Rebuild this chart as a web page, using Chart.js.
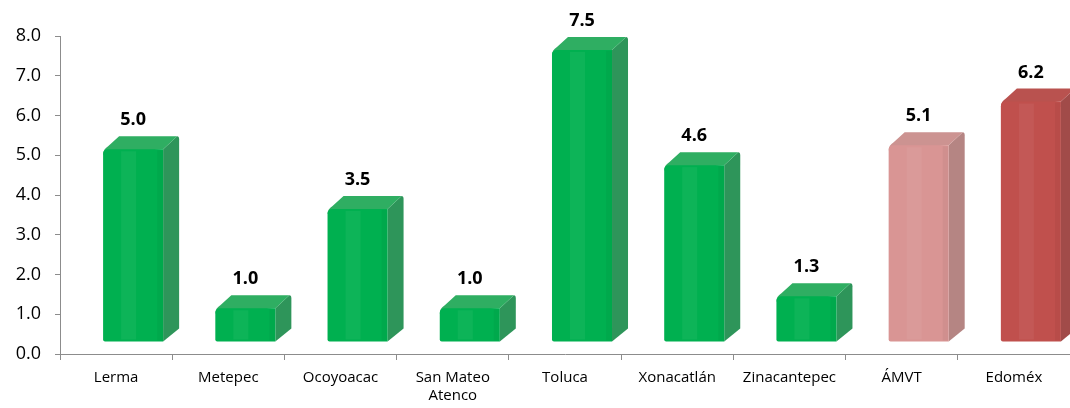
<!DOCTYPE html>
<html>
<head>
<meta charset="utf-8">
<script src="https://cdn.jsdelivr.net/npm/chart.js@4.4.1/dist/chart.umd.min.js"></script>
<style>
  html, body { margin: 0; padding: 0; background: #fff; }
  #wrap { width: 1070px; height: 408px; position: relative; }
</style>
</head>
<body>
<div id="wrap"><canvas id="myChart"></canvas></div>
<script>
// Data
const categories = ['Lerma', 'Metepec', 'Ocoyoacac', ['San Mateo', 'Atenco'], 'Toluca', 'Xonacatlán', 'Zinacantepec', 'ÁMVT', 'Edoméx'];
const values = [5.0, 1.0, 3.5, 1.0, 7.5, 4.6, 1.3, 5.1, 6.2];
const yTicks = [0, 1, 2, 3, 4, 5, 6, 7, 8];

// Colours per bar (front, side, top)
const frontColors = ['#00b050', '#00b050', '#00b050', '#00b050', '#00b050', '#00b050', '#00b050', '#d99594', '#c0504d'];
const sideColors = ['#2e955a', '#2e955a', '#2e955a', '#2e955a', '#2e955a', '#2e955a', '#2e955a', '#b58583', '#a14b49'];
const topColors = ['#2fae62', '#2fae62', '#2fae62', '#2fae62', '#2fae62', '#2fae62', '#2fae62', '#cc9391', '#b9524f'];

const FONT = '"Open Sans", "Liberation Sans", sans-serif';

// Draws Excel-like 3D columns and value labels on top of invisible bars
const bars3d = {
    id: 'bars3d',
    afterDatasetsDraw(chart) {
        const ctx = chart.ctx;
        const meta = chart.getDatasetMeta(0);
        const shift = 17, dx = 16, dy = -13, r = 5;
        ctx.save();
        meta.data.forEach((el, i) => {
            const w = el.width;
            const x0 = el.x + shift - w / 2;
            const x1 = x0 + w;
            const top = el.y - 6;
            const bottom = el.base - 12;

            // side
            ctx.fillStyle = sideColors[i];
            ctx.beginPath();
            ctx.moveTo(x1, top);
            ctx.lineTo(x1 + dx - 2, top + dy);
            ctx.quadraticCurveTo(x1 + dx, top + dy, x1 + dx, top + dy + 3);
            ctx.lineTo(x1 + dx, bottom + dy);
            ctx.lineTo(x1, bottom);
            ctx.closePath();
            ctx.fill();

            // top
            ctx.fillStyle = topColors[i];
            ctx.beginPath();
            ctx.moveTo(x0, top + r);
            ctx.quadraticCurveTo(x0, top, x0 + r, top - 3);
            ctx.lineTo(x0 + dx, top + dy);
            ctx.lineTo(x1 + dx - 2, top + dy);
            ctx.lineTo(x1, top);
            ctx.closePath();
            ctx.fill();

            // front
            ctx.fillStyle = frontColors[i];
            ctx.beginPath();
            ctx.moveTo(x0, top + r);
            ctx.quadraticCurveTo(x0, top, x0 + r, top);
            ctx.lineTo(x1, top);
            ctx.lineTo(x1, bottom);
            ctx.lineTo(x0 + 2, bottom);
            ctx.quadraticCurveTo(x0, bottom, x0, bottom - 2);
            ctx.closePath();
            ctx.fill();

            // soft shading on the front face
            ctx.fillStyle = 'rgba(255,255,255,0.05)';
            ctx.fillRect(x0 + w * 0.3, top + 2, w * 0.25, bottom - top - 4);
            ctx.fillStyle = 'rgba(0,0,0,0.04)';
            ctx.fillRect(x1 - 6, top + 1, 6, bottom - top - 2);

            // value label
            ctx.fillStyle = '#000';
            ctx.font = 'bold 18px ' + FONT;
            ctx.textAlign = 'center';
            ctx.textBaseline = 'middle';
            ctx.fillText(values[i].toFixed(1), x0 + w / 2, top - 29);
        });
        ctx.restore();
    }
};

const config = {
    type: 'bar',
    data: {
        labels: categories,
        datasets: [{
            data: values,
            backgroundColor: 'rgba(0,0,0,0)',
            borderWidth: 0,
            barPercentage: 0.535,
            categoryPercentage: 1.0
        }]
    },
    options: {
        responsive: true,
        maintainAspectRatio: false,
        animation: false,
        layout: { padding: { top: 36, right: 0, left: 0, bottom: 0 } },
        plugins: {
            legend: { display: false },
            tooltip: { enabled: false }
        },
        scales: {
            x: {
                offset: true,
                grid: {
                    display: true,
                    drawOnChartArea: false,
                    drawTicks: true,
                    tickLength: 6,
                    color: '#8c8c8c',
                    offset: true
                },
                border: { display: true, color: '#8c8c8c', width: 1 },
                ticks: {
                    color: '#000',
                    font: { family: FONT, size: 15, lineHeight: 1.2 },
                    padding: 9,
                    maxRotation: 0,
                    autoSkip: false
                },
                afterFit(scale) { scale.height = 54; }
            },
            y: {
                min: 0,
                max: 8,
                afterBuildTicks(scale) { scale.ticks = yTicks.map(v => ({ value: v })); },
                grid: {
                    display: true,
                    drawOnChartArea: false,
                    drawTicks: true,
                    tickLength: 5,
                    color: '#8c8c8c'
                },
                border: { display: true, color: '#8c8c8c', width: 1 },
                ticks: {
                    color: '#000',
                    font: { family: FONT, size: 18 },
                    padding: 14,
                    callback: v => Number(v).toFixed(1)
                },
                afterFit(scale) { scale.width = 60; }
            }
        }
    },
    plugins: [bars3d]
};

const ctx = document.getElementById('myChart').getContext('2d');
const myChart = new Chart(ctx, config);
</script>
</body>
</html>
